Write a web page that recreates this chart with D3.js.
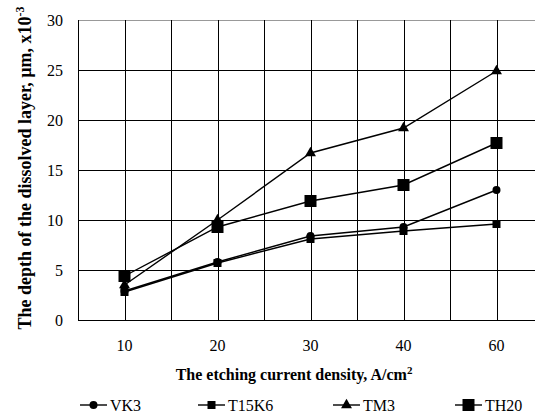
<!DOCTYPE html>
<html>
<head>
<meta charset="utf-8">
<script src="https://cdn.jsdelivr.net/npm/d3@7"></script>
<style>
  body { margin: 0; background: #fff; }
  svg { display: block; }
  svg text { font-family: "Liberation Serif", "Times New Roman", Times, "DejaVu Serif", serif; }
</style>
</head>
<body>
<svg id="chart" width="535" height="416"></svg>
<script>
let width = 535, height = 416;

let categories = ["10", "20", "30", "40", "60"];
let yTicks = [0, 5, 10, 15, 20, 25, 30];
let vk3 = [2.9, 5.8, 8.4, 9.3, 13.0];
let t15k6 = [2.8, 5.7, 8.1, 8.9, 9.6];
let tm3 = [3.5, 10.0, 16.7, 19.2, 24.9];
let th20 = [4.4, 9.3, 11.9, 13.5, 17.7];
let seriesNames = ["VK3", "T15K6", "TM3", "TH20"];

let series = [
    { name: "VK3", values: vk3, symbol: d3.symbolCircle, size: 50 },
    { name: "T15K6", values: t15k6, symbol: d3.symbolSquare, size: 64 },
    { name: "TM3", values: tm3, symbol: d3.symbolTriangle, size: 52 },
    { name: "TH20", values: th20, symbol: d3.symbolSquare, size: 144 }
];

let plotLeft = 78, plotTop = 20, plotRight = 543, plotBottom = 320;

let svg = d3.select('#chart');

let x = d3.scaleBand().domain(categories).range([plotLeft, plotRight]);
let y = d3.scaleLinear().domain([0, 30]).range([plotBottom, plotTop]);
let cx = (c) => x(c) + x.bandwidth() / 2;

//grid: horizontal lines
svg.append('g')
    .selectAll('line')
    .data(yTicks)
    .enter().append('line')
    .attr('x1', plotLeft).attr('x2', plotRight)
    .attr('y1', (d) => Math.round(y(d)) + 0.5)
    .attr('y2', (d) => Math.round(y(d)) + 0.5)
    .attr('stroke', (d) => d === 30 ? '#999' : '#000')
    .attr('stroke-width', 1);

//grid: vertical lines at band edges and centres
let vLines = [];
categories.forEach((c) => { vLines.push(x(c)); vLines.push(cx(c)); });
vLines.push(plotRight);
svg.append('g')
    .selectAll('line')
    .data(vLines)
    .enter().append('line')
    .attr('x1', (d) => Math.round(d) + 0.5)
    .attr('x2', (d) => Math.round(d) + 0.5)
    .attr('y1', plotTop).attr('y2', plotBottom)
    .attr('stroke', '#000')
    .attr('stroke-width', 1);

//axes
let yAxis = svg.append('g')
    .attr('transform', 'translate(' + (plotLeft - 15) + ',0)')
    .call(d3.axisLeft(y).tickValues(yTicks).tickSize(0).tickPadding(0));
yAxis.attr('font-family', null).attr('font-size', 16);
yAxis.select('.domain').remove();
yAxis.selectAll('text').attr('fill', '#000');

let xAxis = svg.append('g')
    .attr('transform', 'translate(0,' + (plotBottom + 20) + ')')
    .call(d3.axisBottom(x).tickSize(0).tickPadding(0));
xAxis.attr('font-family', null).attr('font-size', 16);
xAxis.select('.domain').remove();
xAxis.selectAll('text').attr('fill', '#000');

//axis titles
let xTitle = svg.append('text')
    .attr('x', 294).attr('y', 380)
    .attr('text-anchor', 'middle')
    .attr('font-weight', 'bold')
    .attr('font-size', 16)
    .text('The etching current density, A/cm');
xTitle.append('tspan').attr('dy', -6).attr('font-size', 11).text('2');

let yTitle = svg.append('text')
    .attr('transform', 'translate(31,168) rotate(-90)')
    .attr('text-anchor', 'middle')
    .attr('font-weight', 'bold')
    .attr('font-size', 18)
    .text('The depth of the dissolved layer, \u00b5m, x10');
yTitle.append('tspan').attr('dy', -7).attr('font-size', 12).text('-3');

//series lines and markers
let line = d3.line()
    .x((d, i) => cx(categories[i]))
    .y((d) => y(d));

let g = svg.append('g');
series.forEach((s) => {
    g.append('path')
        .attr('d', line(s.values))
        .attr('fill', 'none')
        .attr('stroke', '#000')
        .attr('stroke-width', 1.4);
    g.selectAll(null)
        .data(s.values)
        .enter().append('path')
        .attr('d', d3.symbol().type(s.symbol).size(s.size))
        .attr('transform', (d, i) => 'translate(' + cx(categories[i]) + ',' + y(d) + ')')
        .attr('fill', '#000');
});

//legend
let legendX = [80, 198, 333, 455];
let legend = svg.append('g')
    .selectAll('g')
    .data(series)
    .enter().append('g')
    .attr('transform', (d, i) => 'translate(' + legendX[i] + ',405)');
legend.append('line')
    .attr('x1', 0).attr('x2', 27)
    .attr('stroke', '#000').attr('stroke-width', 1.4);
legend.append('path')
    .attr('d', (d) => d3.symbol().type(d.symbol).size(d.size)())
    .attr('transform', 'translate(13.5,0)')
    .attr('fill', '#000');
legend.append('text')
    .attr('x', 30).attr('y', 5.5)
    .attr('font-size', 16)
    .text((d, i) => seriesNames[i]);
</script>
</body>
</html>
